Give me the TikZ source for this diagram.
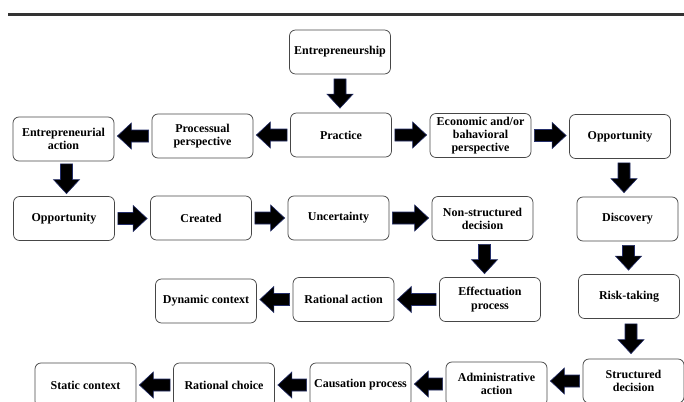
\documentclass[tikz,border=0pt]{standalone}
\usepackage{fontspec}
\setmainfont{Liberation Serif}
\usetikzlibrary{calc}
\definecolor{navyedge}{RGB}{35,45,105}
\definecolor{boxedge}{RGB}{70,70,70}
\begin{document}
\begin{tikzpicture}[x=1pt,y=-1pt,
  box/.style={draw=boxedge, line width=0.75pt, rounded corners=6pt,
    minimum width=101pt, minimum height=44pt, inner sep=1pt, align=center,
    font=\fontsize{12}{13.2}\selectfont\bfseries},
  blk/.style={fill=black, draw=navyedge, line width=0.6pt, to path={
    let \p1=($(\tikztostart)!#1!(\tikztotarget)$),
        \p2=($(\tikztotarget)!#1!(\tikztostart)$),
        \p3=($(\p2)!14pt!(\p1)$) in
    ($(\p1)!6pt!90:(\p2)$) -- ($(\p3)!6pt!90:(\p2)$) -- ($(\p3)!13pt!90:(\p2)$)
    -- (\p2) -- ($(\p3)!13pt!-90:(\p2)$) -- ($(\p3)!6pt!-90:(\p2)$)
    -- ($(\p1)!6pt!-90:(\p2)$) -- cycle}},
  blk/.default=3pt]
\useasboundingbox (0,0) rectangle (684,401);
\clip (0,0) rectangle (684,401);

\draw[line width=2.2pt, black!80] (8,14.5) -- (684,14.5);

% row 0
\node[box] (ent) at (340,52) {Entrepreneurship};
% row 1
\node[box] (ea)  at (63.5,139) {Entrepreneurial\\action};
\node[box] (pp)  at (202.5,136) {Processual\\perspective};
\node[box] (pr)  at (341,135) {Practice};
\node[box] (eb)  at (480.5,135.5) {Economic and/or\\bahavioral\\perspective};
\node[box] (op1) at (620,136.5) {Opportunity};
% row 2
\node[box] (op2) at (64,218.5) {Opportunity};
\node[box] (cr)  at (201,218) {Created};
\node[box] (un)  at (338.5,218) {Uncertainty};
\node[box] (ns)  at (482.5,218.5) {Non-structured\\decision};
\node[box] (di)  at (627.5,219) {Discovery};
% row 3
\node[box] (dc)  at (206,301) {Dynamic context};
\node[box] (ra)  at (343.5,299.5) {Rational action};
\node[box] (ef)  at (490,299.5) {Effectuation\\process};
\node[box] (rt)  at (629,296.5) {Risk-taking};
% row 4
\node[box] (sc)  at (85.5,385) {Static context};
\node[box] (rc)  at (224,385) {Rational choice};
\node[box] (cp)  at (360.5,385) {Causation process};
\node[box] (aa)  at (496.5,384) {Administrative\\action};
\node[box] (sd)  at (633.5,381) {Structured\\decision};

% arrows
\draw[blk=4.5pt] (ent.south) to (ent.south |- pr.north);
\draw[blk] (pr.west) to (pr.west -| pp.east);
\draw[blk] (pp.west) to (pp.west -| ea.east);
\draw[blk] (pr.east) to (pr.east -| eb.west);
\draw[blk] (eb.east) to (eb.east -| op1.west);
\draw[blk=2.5pt] ([xshift=3pt]ea.south) to ([xshift=3pt]ea.south |- op2.north);
\draw[blk=4pt] ([xshift=4pt]op1.south) to ([xshift=4pt]op1.south |- di.north);
\draw[blk] (op2.east) to (op2.east -| cr.west);
\draw[blk] (cr.east) to (cr.east -| un.west);
\draw[blk] (un.east) to (un.east -| ns.west);
\draw[blk=3.5pt] ([xshift=2pt]ns.south) to ([xshift=2pt]ns.south |- ef.north);
\draw[blk=4pt] ([xshift=1pt]di.south) to ([xshift=1pt]di.south |- rt.north);
\draw[blk] (ef.west) to (ef.west -| ra.east);
\draw[blk] (ra.west) to (ra.west -| dc.east);
\draw[blk=5pt] ([xshift=2pt]rt.south) to ([xshift=2pt]rt.south |- sd.north);
\draw[blk] (sd.west) to (sd.west -| aa.east);
\draw[blk] (aa.west) to (aa.west -| cp.east);
\draw[blk] (cp.west) to (cp.west -| rc.east);
\draw[blk] (rc.west) to (rc.west -| sc.east);
\end{tikzpicture}
\end{document}
